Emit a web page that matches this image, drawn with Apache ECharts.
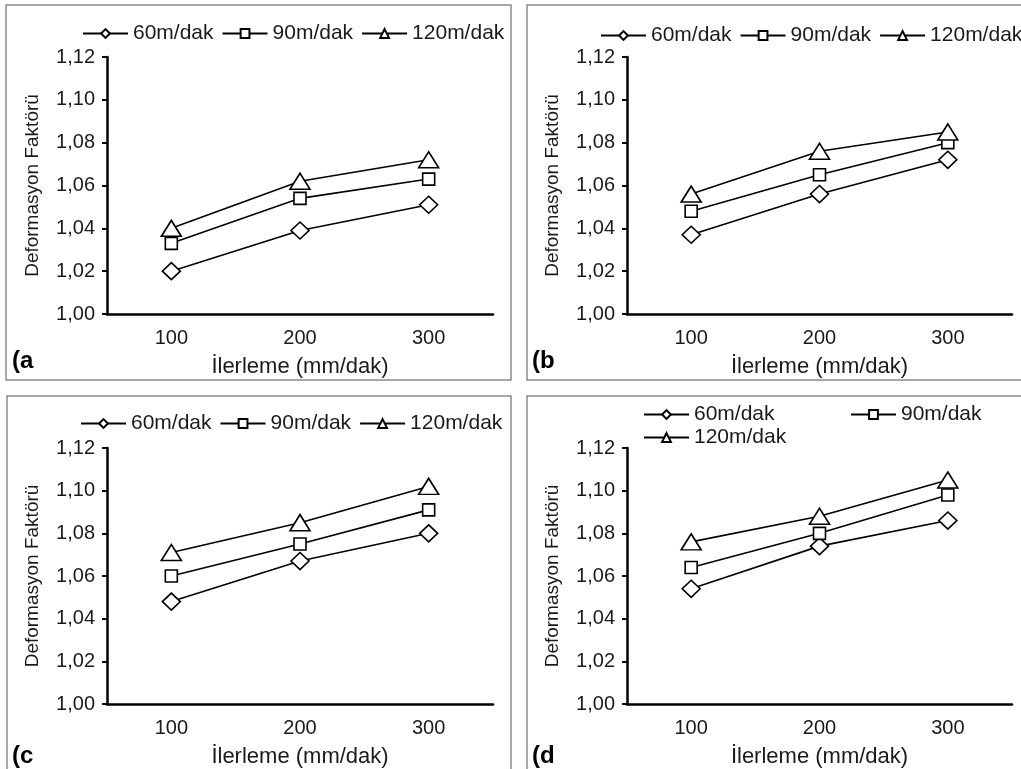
<!DOCTYPE html>
<html><head><meta charset="utf-8">
<script src="https://cdn.jsdelivr.net/npm/echarts@6/dist/echarts.min.js"></script>
<style>html,body{margin:0;padding:0;background:#fff}#c{width:1021px;height:769px}</style>
</head><body><div id="c"></div>
<script>
// ---- data ----
const categories = ['100', '200', '300'];
const seriesNames = ['60m/dak', '90m/dak', '120m/dak'];
const panelLabels = ['(a', '(b', '(c', '(d'];
const xTitle = 'İlerleme (mm/dak)';
const yTitle = 'Deformasyon Faktörü';
const yMin = 1.00, yMax = 1.12, yStep = 0.02;

const a60 = [1.020, 1.039, 1.051];
const a90 = [1.033, 1.054, 1.063];
const a120 = [1.040, 1.062, 1.072];

const b60 = [1.037, 1.056, 1.072];
const b90 = [1.048, 1.065, 1.080];
const b120 = [1.056, 1.076, 1.085];

const c60 = [1.048, 1.067, 1.080];
const c90 = [1.060, 1.075, 1.091];
const c120 = [1.071, 1.085, 1.102];

const d60 = [1.054, 1.074, 1.086];
const d90 = [1.064, 1.080, 1.098];
const d120 = [1.076, 1.088, 1.105];

const panelData = [[a60, a90, a120], [b60, b90, b120], [c60, c90, c120], [d60, d90, d120]];

// ---- layout ----
const grids = [
  { left: 107, top: 57, width: 386, height: 257 },
  { left: 627, top: 57, width: 385, height: 257 },
  { left: 107, top: 448, width: 386, height: 256 },
  { left: 627, top: 448, width: 385, height: 257 }
];
const frames = [
  { x: 6, y: 5, w: 505, h: 375 },
  { x: 527, y: 5, w: 600, h: 375 },
  { x: 7, y: 396, w: 504, h: 400 },
  { x: 527, y: 396, w: 600, h: 400 }
];
const labelPos = [[12, 373], [532, 373], [12, 768], [532, 768]];
const symbols = [
  { symbol: 'diamond', size: [18, 17] },
  { symbol: 'rect', size: 12 },
  { symbol: 'triangle', size: [20, 16] }
];
const FONT = 'Liberation Sans, Arial, sans-serif';
const textColor = '#1a1a1a';

const xAxes = [], yAxes = [], series = [];
grids.forEach((g, i) => {
  xAxes.push({
    type: 'category', gridIndex: i, data: categories, boundaryGap: true,
    axisLine: { lineStyle: { color: '#000', width: 2.5 } },
    axisTick: { alignWithLabel: true, length: 5, lineStyle: { color: '#000', width: 2 } },
    axisLabel: { fontSize: 20, fontFamily: FONT, color: textColor, margin: 14 },
    name: xTitle, nameLocation: 'middle', nameGap: 42,
    nameTextStyle: { fontSize: 22, fontFamily: FONT, color: textColor },
    splitLine: { show: false }
  });
  yAxes.push({
    type: 'value', gridIndex: i, min: yMin, max: yMax, interval: yStep,
    axisLine: { show: true, lineStyle: { color: '#000', width: 2.5 } },
    axisTick: { show: true, length: 5, lineStyle: { color: '#000', width: 2 } },
    axisLabel: {
      fontSize: 20, fontFamily: FONT, color: textColor, margin: 12,
      formatter: v => v.toFixed(2).replace('.', ',')
    },
    name: yTitle, nameLocation: 'middle', nameGap: 65, nameRotate: 90,
    nameTextStyle: { fontSize: 19, fontFamily: FONT, color: textColor },
    splitLine: { show: false }
  });
  panelData[i].forEach((vals, k) => {
    series.push({
      type: 'line', name: seriesNames[k], xAxisIndex: i, yAxisIndex: i,
      data: vals, symbol: symbols[k].symbol, symbolSize: symbols[k].size,
      showAllSymbol: true,
      lineStyle: { color: '#000', width: 1.6 },
      itemStyle: { color: '#fff', borderColor: '#000', borderWidth: 1.6 },
      emphasis: { disabled: true }, z: 3 + k
    });
  });
});

const legendBase = {
  orient: 'horizontal', itemWidth: 45, itemHeight: 11, itemGap: 8, padding: 0,
  width: 600,
  textStyle: { fontSize: 21, fontFamily: FONT, color: textColor },
  selectedMode: false
};
const legends = [
  Object.assign({}, legendBase, { left: 82, top: 23, data: seriesNames }),
  Object.assign({}, legendBase, { left: 600, top: 25, data: seriesNames }),
  Object.assign({}, legendBase, { left: 80, top: 413, data: seriesNames }),
  Object.assign({}, legendBase, { left: 643, top: 404, data: [seriesNames[0]] }),
  Object.assign({}, legendBase, { left: 850, top: 404, data: [seriesNames[1]] }),
  Object.assign({}, legendBase, { left: 643, top: 427, data: [seriesNames[2]] })
];

const graphics = [];
frames.forEach(f => graphics.push({
  type: 'rect', shape: { x: f.x, y: f.y, width: f.w, height: f.h },
  style: { fill: 'none', stroke: '#8a8a8a', lineWidth: 1.5 }, silent: true, z: 0
}));
panelLabels.forEach((t, i) => graphics.push({
  type: 'text', x: labelPos[i][0], y: labelPos[i][1],
  style: { text: t, fontSize: 24, fontWeight: 'bold', fontFamily: FONT, fill: '#000',
           textVerticalAlign: 'bottom', verticalAlign: 'bottom' },
  silent: true, z: 10
}));

const chart = echarts.init(document.getElementById('c'), null, { renderer: 'canvas' });
chart.setOption({
  backgroundColor: '#fff',
  animation: false,
  grid: grids,
  xAxis: xAxes,
  yAxis: yAxes,
  legend: legends,
  series: series,
  graphic: graphics
});
</script>
</body></html>
